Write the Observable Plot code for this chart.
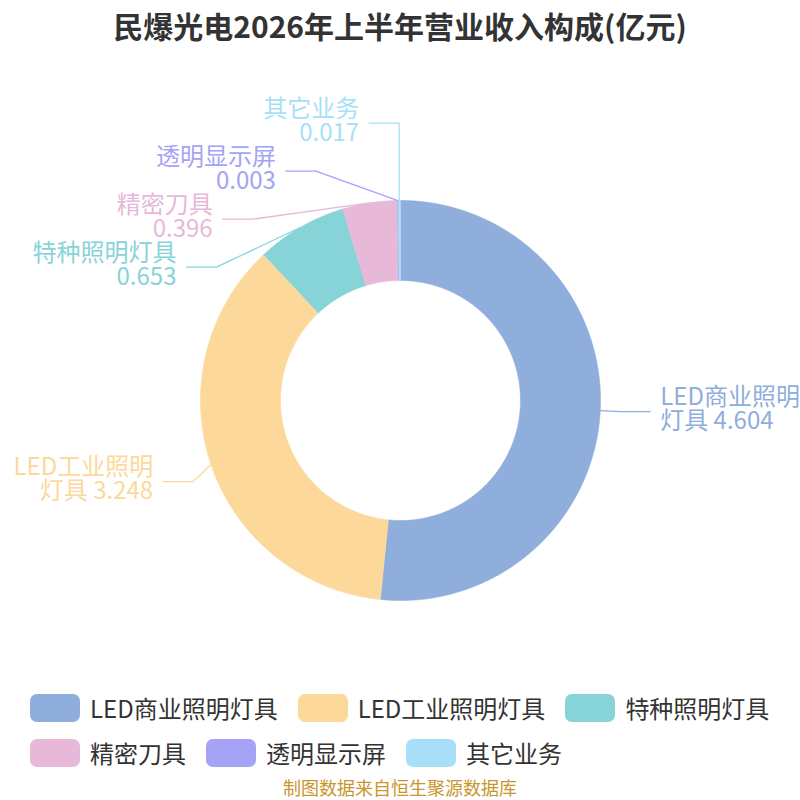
<!DOCTYPE html>
<html><head><meta charset="utf-8">
<script src="https://cdn.jsdelivr.net/npm/d3@7"></script>
<script src="https://cdn.jsdelivr.net/npm/@observablehq/plot@0.6"></script>
<style>
body{margin:0;background:#fff;font-family:"Noto Sans CJK SC","Noto Sans",sans-serif;}
#wrap{width:800px;height:800px;position:relative;overflow:hidden;background:#fff;}
#title{height:50px;line-height:50px;text-align:center;font-size:30px;font-weight:bold;color:#333;white-space:nowrap;}
#legend{position:absolute;left:30px;top:694px;width:760px;display:flex;flex-wrap:wrap;row-gap:17px;}
.item{display:flex;align-items:center;margin-right:20px;height:28px;}
.sw{width:50px;height:28px;border-radius:7px;margin-right:10px;}
.lt{font-size:24px;color:#333;line-height:28px;white-space:nowrap;}
#caption{position:absolute;left:0;top:777px;width:800px;text-align:center;font-size:18px;color:#c8962e;line-height:20px;}
</style></head>
<body><div id="wrap">
<div id="title">民爆光电2026年上半年营业收入构成(亿元)</div>
<div id="chart"></div>
<div id="legend"></div>
<div id="caption">制图数据来自恒生聚源数据库</div>
</div>
<script>
const categories = ["LED商业照明灯具", "LED工业照明灯具", "特种照明灯具", "精密刀具", "透明显示屏", "其它业务"];
const values = [4.604, 3.248, 0.653, 0.396, 0.003, 0.017];
const valueLabels = ["4.604", "3.248", "0.653", "0.396", "0.003", "0.017"];
const colors = ["#8faedb", "#fdd89b", "#87d4d8", "#e7b8d8", "#a4a3f5", "#a8dff8"];

const FONT = '"Noto Sans CJK SC", "Noto Sans", sans-serif';
const W = 800, H = 630, CY = 350;           // svg size, centre row
const R = 200, R0 = 120;                    // outer / inner radius
const LEN = 20, LEN2 = 30, GAP = 10;        // label line lengths
const LABEL_H = 48, WRAP_W = 150;
const ELL_A = R + LEN + LEN2, ELL_B = ELL_A + 8;

const data = categories.map((name, i) => ({name, value: values[i], label: valueLabels[i], color: colors[i]}));
const arcs = d3.pie().sort(null).value(d => d.value)(data);

// slice polygons
const slices = arcs.map(a => {
  const pts = [];
  const n = Math.max(2, Math.ceil((a.endAngle - a.startAngle) / (Math.PI / 360)));
  for (let k = 0; k <= n; k++) {
    const t = a.startAngle + (a.endAngle - a.startAngle) * k / n;
    pts.push({x: R * Math.sin(t), y: R * Math.cos(t)});
  }
  for (let k = n; k >= 0; k--) {
    const t = a.startAngle + (a.endAngle - a.startAngle) * k / n;
    pts.push({x: R0 * Math.sin(t), y: R0 * Math.cos(t)});
  }
  pts.push(pts[0]);
  return {color: a.data.color, pts};
});

// text wrapping
const ctx = document.createElement("canvas").getContext("2d");
ctx.font = "24px " + FONT;
function wrap(text) {
  const tokens = text.match(/[A-Za-z0-9.]+|\s|[^\sA-Za-z0-9.]/g);
  const lines = []; let cur = "";
  for (const tk of tokens) {
    const trial = cur + tk;
    if (cur === "" || ctx.measureText(trial.trimEnd()).width <= WRAP_W) cur = trial;
    else { lines.push(cur.trim()); cur = tk.trim() === "" ? "" : tk; }
  }
  if (cur.trim()) lines.push(cur.trim());
  return lines.join("\n");
}

// label layout (y measured downward from centre)
const labels = arcs.map(a => {
  const mid = (a.startAngle + a.endAngle) / 2;
  const sx = Math.sin(mid), sy = -Math.cos(mid);
  const dir = sx < 0 ? -1 : 1;
  return {
    name: a.data.name, color: a.data.color, dir,
    p0: [R * sx, R * sy],
    y: (R + LEN) * sy,
    natX: (R + LEN) * sx + dir * LEN2,
    text: wrap(a.data.name + " " + a.data.label)
  };
});

function adjust(list) {
  list.sort((a, b) => a.y - b.y);
  const n = list.length;
  function shiftUp(end, delta) { for (let j = end; j >= 0; j--) list[j].y -= delta; }
  function shiftDown(start, end, delta) {
    for (let j = start; j < end; j++) {
      list[j].y += delta;
      if (j > start && j + 1 < end && list[j + 1].y > list[j].y + LABEL_H) { shiftUp(j, delta / 2); return; }
    }
    shiftUp(end - 1, delta / 2);
  }
  let lastY = -Infinity;
  for (let i = 0; i < n; i++) {
    const delta = list[i].y - lastY;
    if (delta < 0) shiftDown(i, n, -delta);
    lastY = list[i].y + LABEL_H;
  }
}
for (const dir of [-1, 1]) {
  const side = labels.filter(l => l.dir === dir);
  if (side.length >= 2) {
    adjust(side);
    for (const l of side) {
      const dy = Math.abs(l.y);
      l.endX = dy < ELL_B ? dir * ELL_A * Math.sqrt(1 - dy * dy / (ELL_B * ELL_B)) : l.natX;
    }
  } else side.forEach(l => l.endX = l.natX);
}

const linePts = [];
for (const l of labels) {
  linePts.push({name: l.name, x: l.p0[0], y: -l.p0[1]});
  linePts.push({name: l.name, x: l.endX - l.dir * LEN2, y: -l.y});
  linePts.push({name: l.name, x: l.endX, y: -l.y});
}
const textPts = labels.map(l => ({name: l.name, dir: l.dir, x: l.endX + l.dir * GAP, y: -l.y, text: l.text}));

const chart = Plot.plot({
  width: W, height: H, margin: 0,
  x: {domain: [-W / 2, W / 2], range: [0, W], axis: null},
  y: {domain: [-(H - CY), CY], range: [H, 0], axis: null},
  color: {domain: categories, range: colors},
  style: {fontFamily: FONT, background: "#fff"},
  marks: [
    ...slices.map(s => Plot.line(s.pts, {x: "x", y: "y", fill: s.color, stroke: s.color, strokeWidth: 0.6})),
    Plot.line(linePts, {x: "x", y: "y", z: "name", stroke: "name", strokeWidth: 1.3, curve: "linear"}),
    Plot.text(textPts.filter(d => d.dir < 0), {x: "x", y: "y", text: "text", fill: "name", textAnchor: "end", fontSize: 24, lineHeight: 1, dy: -2}),
    Plot.text(textPts.filter(d => d.dir > 0), {x: "x", y: "y", text: "text", fill: "name", textAnchor: "start", fontSize: 24, lineHeight: 1, dy: -2})
  ]
});
document.getElementById("chart").appendChild(chart);

const legend = document.getElementById("legend");
categories.forEach((c, i) => {
  const it = document.createElement("div"); it.className = "item";
  const sw = document.createElement("div"); sw.className = "sw"; sw.style.background = colors[i];
  const t = document.createElement("span"); t.className = "lt"; t.textContent = c;
  it.appendChild(sw); it.appendChild(t); legend.appendChild(it);
});
</script>
</body></html>
